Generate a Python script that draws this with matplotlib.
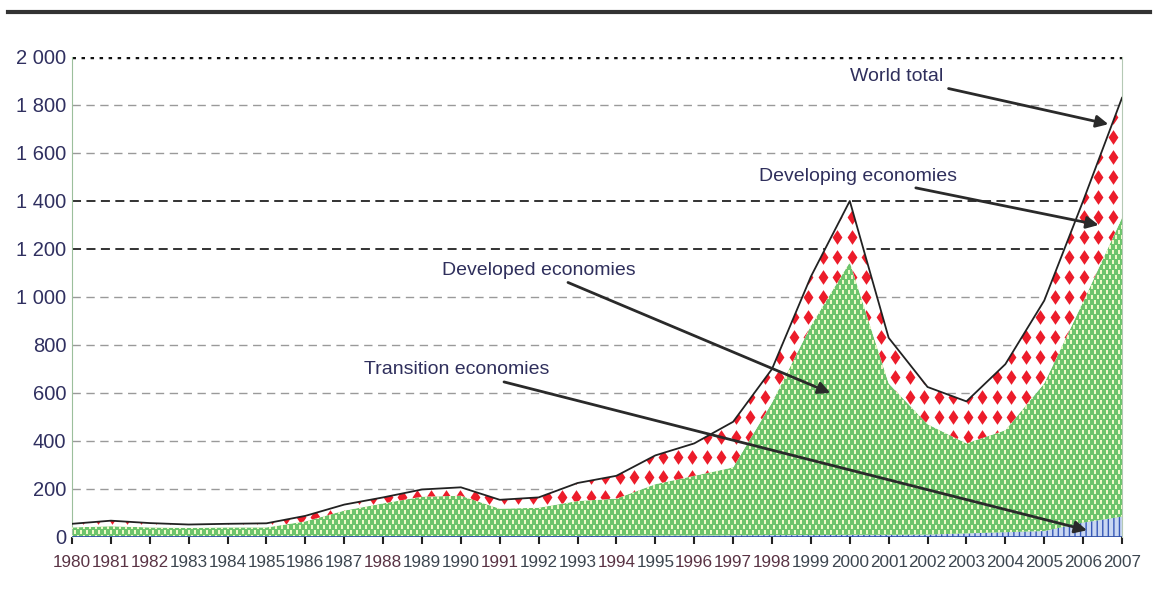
import numpy as np
import matplotlib.pyplot as plt
from matplotlib.lines import Line2D
from matplotlib.path import Path

# values (billions of dollars)
years = list(range(1980, 2008))
world_total = [55, 68, 58, 52, 55, 57, 88, 135, 165, 198, 207, 155, 165, 225, 255,
               340, 390, 480, 700, 1085, 1400, 830, 625, 565, 720, 985, 1400, 1830]
developed = [40, 45, 40, 38, 40, 40, 65, 110, 140, 168, 171, 116, 119, 146, 155,
             214, 249, 283, 552, 872, 1136, 631, 460, 375, 425, 615, 920, 1245]
transition = [0, 0, 0, 0, 0, 0, 0, 0, 0, 0, 1, 2, 3, 4, 5,
              6, 6, 7, 8, 8, 9, 9, 10, 15, 20, 25, 60, 85]
developing = [w - d - t for w, d, t in zip(world_total, developed, transition)]

ytick_vals = [0, 200, 400, 600, 800, 1000, 1200, 1400, 1600, 1800, 2000]
maroon_years = [1980, 1981, 1982, 1988, 1991, 1994, 1996, 1997, 1998]

notes = [
    ("World total", (2001.2, 1917), (2006.65, 1720)),
    ("Developing economies", (2000.2, 1504), (2006.4, 1300)),
    ("Developed economies", (1992.0, 1112), (1999.5, 600)),
    ("Transition economies", (1989.9, 696), (2006.1, 28)),
]

font = 'Liberation Sans'
navy = '#2f2f5c'
plt.rcParams['hatch.linewidth'] = 1.0

fig = plt.figure(figsize=(11.55, 5.96), dpi=100)
ax = fig.add_axes([72 / 1155, 1 - 537 / 596, 1050 / 1155, 480 / 596])

polys = ax.stackplot(years, transition, developed, developing,
                     colors=['#c9d7f2', '#6cc46c', 'white'], linewidth=0, zorder=2)
polys[0].set_hatch('|||')
polys[0].set_edgecolor('#3658b8')

# one data unit per pixel
px_x = 27 / 1050
px_y = 2000 / 480


def grid_points(step_x, step_y, stagger, x0=0.0, y0=0.0):
    gx, gy = [], []
    row = 0
    yy = y0 * px_y
    while yy < 2000:
        off = step_x / 2 if (stagger and row % 2) else 0
        xx = 1980 + (x0 + off) * px_x
        while xx <= 2007.2:
            gx.append(xx)
            gy.append(yy)
            xx += step_x * px_x
        yy += step_y * px_y
        row += 1
    return gx, gy


# pale speckles on the developed-economies area
dot = Path([(-0.35, 0.5), (0.35, 0.5), (0.35, -0.5), (-0.35, -0.5), (-0.35, 0.5)],
           [Path.MOVETO, Path.LINETO, Path.LINETO, Path.LINETO, Path.CLOSEPOLY])
dx, dy = grid_points(6, 5, True)
keep = [i for i in range(len(dx)) if dy[i] < 1400]
dots = ax.scatter([dx[i] for i in keep], [dy[i] for i in keep], marker=dot, s=8,
                  color='#f0f9c8', linewidths=0, zorder=3)
dots.set_clip_path(polys[1].get_paths()[0], ax.transData)

# red diamonds on the developing-economies band
diamond = Path([(0, 1), (0.67, 0), (0, -1), (-0.67, 0), (0, 1)],
               [Path.MOVETO, Path.LINETO, Path.LINETO, Path.LINETO, Path.CLOSEPOLY])
gx, gy = grid_points(14.5, 20, False, x0=-3, y0=0.3)
sc = ax.scatter(gx, gy, marker=diamond, s=112, color='#ec1c2a', linewidths=0, zorder=3)
sc.set_clip_path(polys[2].get_paths()[0], ax.transData)

ax.plot(years, world_total, color='#222222', lw=1.3, zorder=4)
ax.axhline(0, color='#3050a8', lw=2, zorder=5)

# gridlines
for v in ytick_vals[1:]:
    if v == 2000:
        ax.axhline(v, color='#111111', lw=2.5, ls=(0, (1, 1.6)), zorder=1)
    elif v in (1200, 1400):
        ax.axhline(v, color='#222222', lw=1.3, ls=(0, (5, 3)), zorder=1)
    else:
        ax.axhline(v, color='#9a9a9a', lw=1.0, ls=(0, (6, 4)), zorder=1)

ax.set_xlim(1980, 2007)
ax.set_ylim(0, 2000)
for s in ['top', 'bottom']:
    ax.spines[s].set_visible(False)
ax.spines['left'].set_color('#9cbf9c')
ax.spines['right'].set_color('#b5c9b5')

ax.set_yticks(ytick_vals)
ax.set_yticklabels([f"{v:,}".replace(",", " ") for v in ytick_vals],
                   family=font, fontsize=14.5, color='#303060')
ax.tick_params(axis='y', length=0, pad=4)

ax.set_xticks(years)
ax.set_xticklabels([str(y) for y in years], family=font, fontsize=12.3)
for lbl, y in zip(ax.get_xticklabels(), years):
    lbl.set_color('#5a3344' if y in maroon_years else '#3c4650')
ax.tick_params(axis='x', length=5, width=1.5, color='#222222', pad=8, direction='out')

for text, xy_text, xy in notes:
    ax.annotate(text, xy=xy, xytext=xy_text, ha='center', va='center',
                family=font, fontsize=14, color=navy, zorder=6,
                arrowprops=dict(arrowstyle='-|>', color='#2a2a2a', lw=2,
                                mutation_scale=18, shrinkA=2, shrinkB=0))

fig.add_artist(Line2D([8 / 1155, 1150 / 1155], [1 - 12 / 596, 1 - 12 / 596],
                      color='#333333', lw=3))

fig.savefig('out.png', dpi=100, facecolor='white')
